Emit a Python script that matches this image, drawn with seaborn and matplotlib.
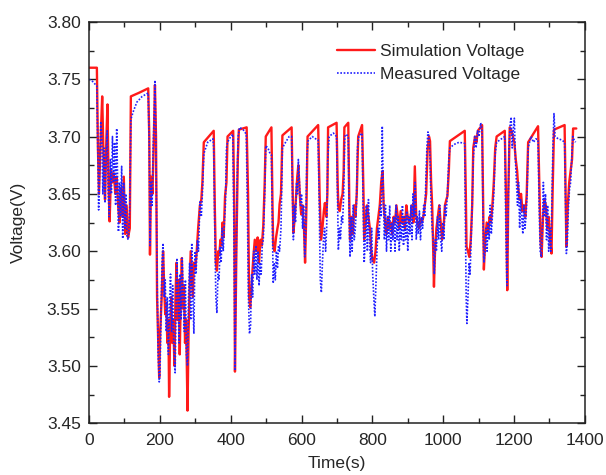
import matplotlib
matplotlib.use("Agg")
import matplotlib.pyplot as plt
import seaborn as sns
import pandas as pd
from matplotlib.ticker import AutoMinorLocator

# ---- data (time s, voltage V) ----
sim_points = [
    (0,3.760),(22,3.760),(25,3.690),(28,3.650),(33,3.700),(37,3.735),(41,3.680),(45,3.645),(49,3.700),(52,3.728),
    (55,3.660),(58,3.626),(62,3.670),(66,3.660),(70,3.668),(74,3.650),(78,3.665),(82,3.640),(86,3.625),(90,3.655),
    (94,3.630),(98,3.665),(102,3.615),(106,3.640),(110,3.612),(115,3.620),(118,3.735),(140,3.738),(167,3.742),(170,3.700),
    (172,3.597),(175,3.665),(179,3.650),(183,3.700),(186,3.745),(189,3.700),(192,3.560),(195,3.525),(198,3.490),(201,3.530),
    (205,3.560),(209,3.600),(212,3.570),(215,3.545),(218,3.555),(221,3.520),(224,3.540),(226,3.473),(229,3.530),(232,3.560),
    (235,3.520),(238,3.540),(241,3.500),(244,3.560),(247,3.590),(250,3.540),(253,3.575),(256,3.510),(259,3.560),(262,3.594),
    (265,3.550),(268,3.570),(271,3.520),(274,3.540),(278,3.461),(281,3.530),(284,3.570),(287,3.600),(290,3.580),(293,3.560),
    (296,3.590),(300,3.585),(304,3.600),(308,3.620),(313,3.640),(317,3.645),(320,3.660),(324,3.695),(352,3.705),(355,3.640),
    (358,3.590),(361,3.583),(365,3.600),(368,3.598),(371,3.610),(374,3.605),(377,3.625),(380,3.612),(384,3.648),(388,3.660),
    (391,3.700),(407,3.705),(410,3.640),(412,3.495),(416,3.600),(420,3.680),(423,3.706),(445,3.708),(449,3.650),(452,3.560),
    (455,3.551),(459,3.570),(464,3.595),(468,3.610),(472,3.600),(476,3.612),(480,3.590),(484,3.610),(488,3.605),(492,3.622),
    (496,3.660),(499,3.700),(515,3.708),(518,3.640),(520,3.605),(524,3.600),(528,3.612),(532,3.620),(535,3.625),(538,3.641),
    (542,3.650),(546,3.701),(572,3.708),(575,3.650),(577,3.616),(581,3.630),(585,3.650),(588,3.665),(591,3.675),(595,3.650),
    (599,3.632),(603,3.640),(607,3.620),(610,3.590),(614,3.640),(617,3.700),(647,3.710),(651,3.650),(655,3.610),(659,3.620),
    (663,3.635),(666,3.642),(670,3.630),(673,3.650),(675,3.708),(699,3.712),(702,3.660),(704,3.639),(708,3.635),(712,3.645),
    (716,3.650),(719,3.670),(721,3.708),(732,3.712),(735,3.640),(737,3.610),(741,3.630),(745,3.615),(749,3.640),(752,3.630),
    (756,3.650),(760,3.700),(771,3.710),(775,3.650),(777,3.610),(781,3.625),(785,3.640),(789,3.630),(793,3.620),(797,3.600),
    (801,3.592),(805,3.590),(809,3.600),(813,3.620),(817,3.630),(821,3.640),(825,3.660),(829,3.670),(832,3.640),(836,3.625),
    (840,3.615),(844,3.630),(848,3.620),(852,3.625),(856,3.615),(860,3.630),(864,3.625),(868,3.640),(872,3.630),(876,3.620),
    (880,3.635),(884,3.625),(888,3.630),(892,3.620),(896,3.640),(900,3.630),(904,3.625),(908,3.630),(912,3.640),(916,3.625),
    (920,3.674),(924,3.630),(928,3.625),(932,3.620),(936,3.628),(940,3.625),(944,3.630),(948,3.640),(952,3.650),(956,3.688),
    (960,3.700),(963,3.696),(966,3.660),(969,3.640),(972,3.600),(974,3.569),(977,3.600),(981,3.620),(985,3.630),(989,3.640),
    (993,3.625),(997,3.610),(1001,3.620),(1005,3.640),(1009,3.645),(1012,3.648),(1016,3.670),(1019,3.696),(1061,3.705),(1064,3.650),
    (1066,3.604),(1070,3.600),(1074,3.595),(1078,3.610),(1082,3.640),(1085,3.690),(1090,3.700),(1094,3.695),(1098,3.705),(1110,3.710),
    (1113,3.640),(1115,3.584),(1119,3.610),(1123,3.625),(1127,3.615),(1131,3.630),(1135,3.625),(1139,3.640),(1143,3.660),(1147,3.690),
    (1151,3.700),(1174,3.705),(1178,3.640),(1181,3.566),(1184,3.650),(1188,3.708),(1193,3.705),(1197,3.700),(1201,3.695),(1205,3.680),
    (1209,3.670),(1212,3.655),(1216,3.645),(1220,3.650),(1224,3.635),(1228,3.640),(1232,3.630),(1236,3.650),(1240,3.695),(1268,3.709),
    (1272,3.650),(1275,3.610),(1278,3.595),(1282,3.630),(1286,3.645),(1290,3.640),(1294,3.620),(1298,3.630),(1302,3.610),(1306,3.598),
    (1309,3.650),(1313,3.706),(1343,3.710),(1346,3.650),(1348,3.604),(1352,3.640),(1356,3.660),(1360,3.670),(1364,3.680),(1367,3.707),
    (1376,3.707),
]

meas_points = [
    (0,3.750),(10,3.748),(22,3.744),(24,3.700),(27,3.636),(30,3.670),(33,3.713),(36,3.700),(39,3.650),(42,3.690),
    (45,3.642),(48,3.680),(51,3.705),(54,3.650),(57,3.630),(60,3.680),(63,3.650),(66,3.700),(69,3.660),(72,3.695),
    (75,3.640),(78,3.707),(81,3.650),(83,3.617),(86,3.660),(89,3.630),(92,3.674),(95,3.611),(98,3.660),(101,3.620),
    (104,3.650),(107,3.612),(111,3.610),(115,3.640),(118,3.715),(125,3.722),(135,3.730),(150,3.735),(167,3.738),(170,3.690),
    (172,3.605),(175,3.660),(178,3.640),(181,3.690),(184,3.720),(186,3.749),(189,3.690),(192,3.580),(195,3.510),(198,3.486),
    (200,3.490),(203,3.540),(206,3.590),(209,3.607),(212,3.560),(215,3.575),(218,3.530),(221,3.560),(224,3.510),(227,3.550),
    (230,3.580),(233,3.530),(236,3.570),(239,3.520),(243,3.494),(246,3.560),(248,3.594),(251,3.560),(254,3.520),(257,3.580),
    (260,3.540),(263,3.594),(266,3.560),(269,3.530),(272,3.575),(275,3.510),(278,3.500),(281,3.560),(284,3.590),(287,3.540),
    (290,3.607),(293,3.560),(296,3.528),(299,3.600),(302,3.580),(306,3.610),(309,3.600),(313,3.643),(317,3.630),(320,3.650),
    (324,3.685),(335,3.695),(350,3.698),(352,3.690),(355,3.620),(358,3.560),(361,3.546),(364,3.580),(367,3.575),(370,3.604),
    (373,3.590),(376,3.620),(379,3.600),(382,3.625),(385,3.640),(388,3.690),(391,3.695),(400,3.700),(406,3.702),(409,3.620),
    (412,3.497),(415,3.580),(418,3.660),(421,3.700),(425,3.708),(435,3.706),(444,3.702),(447,3.640),(450,3.560),(453,3.528),
    (456,3.535),(459,3.580),(462,3.560),(465,3.600),(468,3.580),(471,3.605),(474,3.575),(477,3.600),(480,3.570),(483,3.590),
    (486,3.580),(489,3.605),(492,3.610),(496,3.650),(499,3.692),(505,3.690),(510,3.686),(515,3.684),(518,3.620),(520,3.572),
    (523,3.590),(526,3.575),(529,3.600),(532,3.585),(535,3.605),(538,3.600),(542,3.620),(546,3.690),(555,3.695),(565,3.700),
    (572,3.700),(575,3.640),(577,3.610),(580,3.640),(583,3.625),(586,3.660),(589,3.650),(591,3.680),(594,3.660),(597,3.640),
    (600,3.650),(603,3.620),(606,3.640),(609,3.595),(612,3.620),(615,3.680),(618,3.696),(630,3.700),(640,3.698),(647,3.697),
    (650,3.640),(653,3.575),(656,3.564),(659,3.590),(662,3.610),(665,3.620),(668,3.600),(671,3.620),(674,3.680),(678,3.700),
    (690,3.703),(699,3.700),(702,3.640),(704,3.601),(707,3.620),(710,3.610),(713,3.630),(716,3.625),(719,3.650),(722,3.700),
    (726,3.702),(732,3.700),(735,3.620),(737,3.595),(740,3.630),(743,3.600),(746,3.640),(749,3.610),(752,3.620),(755,3.640),
    (758,3.690),(762,3.700),(771,3.703),(774,3.640),(777,3.590),(780,3.610),(783,3.640),(786,3.600),(789,3.645),(792,3.610),
    (795,3.590),(798,3.620),(801,3.580),(804,3.560),(807,3.543),(810,3.570),(813,3.600),(816,3.620),(819,3.610),(822,3.640),
    (825,3.630),(828,3.709),(831,3.650),(834,3.610),(837,3.640),(840,3.600),(843,3.630),(846,3.610),(849,3.640),(852,3.600),
    (855,3.625),(858,3.610),(861,3.630),(864,3.600),(867,3.640),(870,3.610),(873,3.630),(876,3.600),(879,3.625),(882,3.610),
    (885,3.640),(888,3.605),(891,3.630),(894,3.610),(897,3.635),(900,3.600),(903,3.630),(906,3.615),(909,3.640),(912,3.610),
    (915,3.650),(918,3.630),(921,3.660),(924,3.610),(927,3.630),(930,3.615),(933,3.635),(936,3.610),(939,3.630),(942,3.620),
    (945,3.640),(948,3.630),(951,3.660),(954,3.690),(957,3.704),(960,3.700),(963,3.680),(966,3.640),(969,3.620),(972,3.610),
    (975,3.580),(978,3.610),(981,3.600),(984,3.630),(987,3.610),(990,3.640),(993,3.610),(996,3.600),(999,3.625),(1002,3.610),
    (1005,3.640),(1008,3.630),(1012,3.650),(1016,3.680),(1019,3.690),(1030,3.693),(1045,3.695),(1061,3.694),(1063,3.620),(1065,3.560),
    (1067,3.537),(1070,3.560),(1073,3.590),(1076,3.580),(1079,3.610),(1082,3.640),(1085,3.680),(1089,3.700),(1093,3.690),(1097,3.705),
    (1101,3.700),(1106,3.712),(1110,3.705),(1113,3.620),(1115,3.590),(1118,3.600),(1121,3.620),(1124,3.600),(1127,3.625),(1130,3.610),
    (1133,3.640),(1136,3.615),(1139,3.630),(1143,3.650),(1147,3.685),(1151,3.695),(1165,3.698),(1174,3.700),(1177,3.620),(1180,3.570),
    (1183,3.620),(1186,3.690),(1189,3.710),(1192,3.717),(1195,3.690),(1198,3.705),(1201,3.716),(1204,3.680),(1207,3.660),(1210,3.640),
    (1213,3.660),(1216,3.620),(1219,3.645),(1222,3.630),(1225,3.615),(1228,3.640),(1231,3.620),(1234,3.630),(1237,3.650),(1240,3.690),
    (1248,3.700),(1255,3.695),(1262,3.698),(1268,3.697),(1271,3.640),(1274,3.600),(1277,3.595),(1280,3.620),(1283,3.660),(1286,3.630),
    (1289,3.650),(1292,3.610),(1295,3.640),(1298,3.600),(1301,3.620),(1304,3.600),(1307,3.640),(1310,3.690),(1313,3.720),(1316,3.700),
    (1325,3.698),(1335,3.697),(1343,3.695),(1346,3.640),(1348,3.598),(1351,3.610),(1354,3.640),(1357,3.655),(1360,3.660),(1363,3.680),
    (1366,3.700),(1370,3.697),(1374,3.695),
]

sim_time = [p[0] for p in sim_points]
sim_voltage = [p[1] for p in sim_points]
meas_time = [p[0] for p in meas_points]
meas_voltage = [p[1] for p in meas_points]

series_labels = ["Simulation Voltage", "Measured Voltage"]
x_ticks = [0, 200, 400, 600, 800, 1000, 1200, 1400]
y_ticks = [3.45, 3.50, 3.55, 3.60, 3.65, 3.70, 3.75, 3.80]

sns.set_style("ticks")
plt.rcParams["font.family"] = ["Liberation Sans", "DejaVu Sans"]

fig = plt.figure(figsize=(6.06, 4.75), dpi=100)
ax = fig.add_axes([0.147, 0.109, 0.818, 0.845])

sim_df = pd.DataFrame({"t": sim_time, "v": sim_voltage})
meas_df = pd.DataFrame({"t": meas_time, "v": meas_voltage})

sns.lineplot(data=sim_df, x="t", y="v", ax=ax, color="#ff1a1a", linewidth=1.7,
             sort=False, label=series_labels[0])
sns.lineplot(data=meas_df, x="t", y="v", ax=ax, color="#2020ff", linewidth=1.2,
             linestyle=(0, (1, 1)), sort=False, label=series_labels[1])

ax.set_xlim(0, 1400)
ax.set_ylim(3.45, 3.80)
ax.set_xticks(x_ticks)
ax.set_yticks(y_ticks)
ax.set_xticklabels([str(v) for v in x_ticks])
ax.set_yticklabels([f"{v:.2f}" for v in y_ticks])
ax.xaxis.set_minor_locator(AutoMinorLocator(2))
ax.yaxis.set_minor_locator(AutoMinorLocator(2))
ax.tick_params(which="both", direction="in", top=True, right=True, labelsize=12.5, color="#222222")
ax.tick_params(which="major", length=6, width=1)
ax.tick_params(which="minor", length=3.5, width=1)
ax.tick_params(axis="x", which="major", pad=7)
ax.tick_params(axis="y", which="major", pad=6)
for s in ax.spines.values():
    s.set_linewidth(1.1)
    s.set_color("#222222")

ax.set_xlabel("Time(s)", fontsize=12.5, labelpad=6)
ax.set_ylabel("Voltage(V)", fontsize=12.5, labelpad=15)

leg = ax.legend(loc="upper left", bbox_to_anchor=(0.468, 0.985), frameon=False,
                fontsize=12.5, handlelength=2.2, handletextpad=0.3, labelspacing=0.45)

fig.savefig("out.png", dpi=100)
